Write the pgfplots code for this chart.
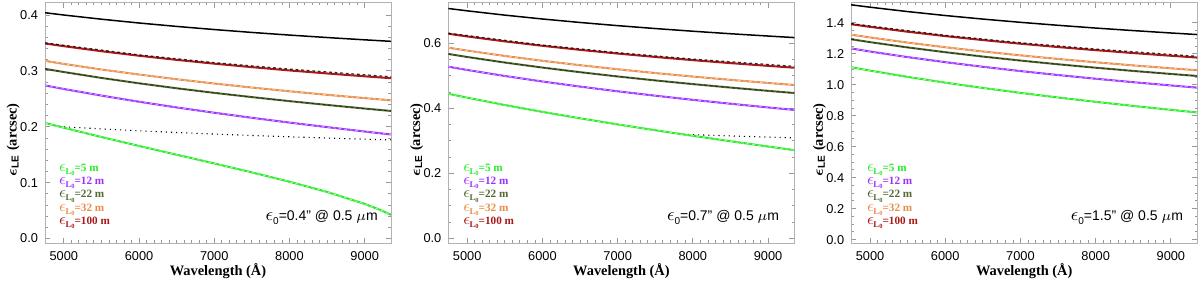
\documentclass[border=0pt]{standalone}
\usepackage{fontspec}
\setmainfont{Liberation Sans}
\newfontfamily\labfont{Liberation Serif}
\usepackage{pgfplots}
\usepackage{pgfplotstable}
\pgfplotsset{compat=1.18}
\usepackage{amsmath}
\usepackage{bm}

\definecolor{cgreen}{RGB}{40,235,40}
\definecolor{cpurple}{RGB}{155,48,255}
\definecolor{colive}{RGB}{82,104,48}
\definecolor{corange}{RGB}{232,140,72}
\definecolor{cred}{RGB}{170,25,25}

\pgfplotstableread{
lam   k      l5     l12    l22    l32    l100
4750 0.4041 0.2069 0.2740 0.3036 0.3179 0.3490
5000 0.4000 0.1983 0.2676 0.2980 0.3125 0.3442
5500 0.3925 0.1817 0.2558 0.2874 0.3025 0.3352
6000 0.3857 0.1657 0.2448 0.2778 0.2935 0.3271
6500 0.3796 0.1500 0.2346 0.2689 0.2851 0.3197
7000 0.3740 0.1344 0.2251 0.2607 0.2774 0.3129
7500 0.3688 0.1184 0.2161 0.2531 0.2702 0.3067
8000 0.3641 0.1017 0.2075 0.2459 0.2635 0.3008
8500 0.3597 0.0834 0.1994 0.2391 0.2572 0.2954
9000 0.3556 0.0620 0.1915 0.2326 0.2513 0.2903
9350 0.3529 0.0425 0.1862 0.2283 0.2473 0.2869
}\tA

\pgfplotstableread{
lam   k      l5     l12    l22    l32    l100
4750 0.7072 0.4447 0.5279 0.5672 0.5865 0.6293
5000 0.7000 0.4326 0.5179 0.5579 0.5776 0.6211
5500 0.6868 0.4099 0.4994 0.5408 0.5611 0.6059
6000 0.6749 0.3888 0.4824 0.5253 0.5462 0.5923
6500 0.6642 0.3690 0.4667 0.5111 0.5326 0.5798
7000 0.6544 0.3503 0.4522 0.4979 0.5201 0.5684
7500 0.6455 0.3323 0.4387 0.4857 0.5084 0.5579
8000 0.6372 0.3151 0.4259 0.4744 0.4976 0.5481
8500 0.6295 0.2984 0.4139 0.4637 0.4875 0.5390
9000 0.6224 0.2822 0.4025 0.4536 0.4779 0.5305
9350 0.6176 0.2710 0.3949 0.4469 0.4716 0.5248
}\tB

\pgfplotstableread{
lam   k      l5     l12    l22    l32    l100
4750 1.5155 1.1126 1.2335 1.2930 1.3229 1.3900
5000 1.5000 1.0908 1.2140 1.2745 1.3048 1.3730
5500 1.4717 1.0502 1.1779 1.2404 1.2716 1.3416
6000 1.4463 1.0131 1.1453 1.2096 1.2416 1.3134
6500 1.4233 0.9788 1.1154 1.1814 1.2143 1.2878
7000 1.4024 0.9470 1.0878 1.1556 1.1892 1.2643
7500 1.3832 0.9172 1.0622 1.1316 1.1660 1.2427
8000 1.3654 0.8892 1.0383 1.1094 1.1445 1.2226
8500 1.3490 0.8627 1.0160 1.0886 1.1244 1.2039
9000 1.3336 0.8375 0.9949 1.0691 1.1056 1.1865
9350 1.3235 0.8206 0.9808 1.0561 1.0930 1.1749
}\tC

\newcommand{\leg}[1]{{\fontsize{8.5}{8.5}\selectfont$\epsilon$}\kern-0.3pt\raisebox{-1.5pt}{\labfont\bfseries\fontsize{4.4}{4.4}\selectfont L\raisebox{-0.7pt}{\fontsize{3.2}{3.2}\selectfont 0}}{\labfont\bfseries\fontsize{5.6}{5.6}\selectfont =#1 m}}
\newcommand{\ann}[1]{{\fontsize{9}{9}\selectfont$\epsilon$}\raisebox{-2pt}{\fontsize{5}{5}\selectfont 0}=#1{\char"22} @ 0.5 $\mu$m}

\pgfplotsset{
  panel/.style={
    scale only axis, width=173pt, height=120.15pt,
    anchor=south west,
    xmin=4750, xmax=9350,
    xtick={5000,6000,7000,8000,9000},
    minor x tick num=9,
    tick align=inside,
    axis line style={draw=black!30},
    tick style={black!40, line width=0.4pt},
    major tick length=2.6pt, minor tick length=1.3pt,
    tick label style={font=\fontsize{6.4}{6.4}\selectfont},
    /pgf/number format/assume math mode=true,
    xticklabel style={/pgf/number format/set thousands separator={}, yshift=-0.5pt},
    yticklabel style={/pgf/number format/.cd, fixed, fixed zerofill, precision=1},
    xlabel={\labfont\bfseries Wavelength (\AA)},
    xlabel style={at={(axis description cs:0.5,0)}, anchor=center, yshift=-14pt, font=\fontsize{7.2}{7.2}\selectfont},
    ylabel={\labfont\bfseries $\boldsymbol{\epsilon}_{\mathbf{LE}}$ (arcsec)},
    ylabel style={at={(axis description cs:-0.092,0.43)}, anchor=center, rotate=0, font=\fontsize{7.2}{7.2}\selectfont},
  },
  lnc/.style={line width=1.0pt},
  dsw/.style={white, opacity=0.55, line width=0.45pt, dash pattern=on 1.4pt off 1.4pt},
  dsk/.style={black, opacity=0.6, line width=0.45pt, dash pattern=on 1.4pt off 1.4pt},
}

\begin{document}
\begin{tikzpicture}
\useasboundingbox (0,0) rectangle (600pt,140.5pt);

% ---------- panel 1 ----------
\begin{axis}[panel, at={(22.5pt,19pt)}, ymin=-0.008, ymax=0.422,
  ytick={0,0.1,0.2,0.3,0.4}, minor y tick num=4]
\addplot[black, line width=0.75pt] table[x=lam,y=k] {\tA};
\addplot[black, line width=0.55pt, dotted] coordinates {(4935,0.2010)(5000,0.2000)(5500,0.19623)(6000,0.19284)(6500,0.18978)(7000,0.18698)(7500,0.18442)(8000,0.18206)(8500,0.17986)(9000,0.17782)(9350,0.17647)};
\addplot[cgreen, lnc] coordinates {(4750,0.2069)(5000,0.1983)(5500,0.1817)(6000,0.1657)(6500,0.1500)(7000,0.1344)(7500,0.1184)(8000,0.1017)(8500,0.0834)(9000,0.0620)(9200,0.0516)(9350,0.0425)};
\addplot[cpurple, lnc] table[x=lam,y=l12] {\tA};
\addplot[colive, lnc] table[x=lam,y=l22] {\tA};
\addplot[corange, lnc] table[x=lam,y=l32] {\tA};
\addplot[cred, lnc] table[x=lam,y=l100] {\tA};
\addplot[dsw] coordinates {(4750,0.2069)(5000,0.1983)(5500,0.1817)(6000,0.1657)(6500,0.1500)(7000,0.1344)(7500,0.1184)(8000,0.1017)(8500,0.0834)(9000,0.0620)(9200,0.0516)(9350,0.0425)};
\addplot[dsw] table[x=lam,y=l12] {\tA};
\addplot[dsk] table[x=lam,y=l22] {\tA};
\addplot[dsw] table[x=lam,y=l32] {\tA};
\addplot[dsk, opacity=0.8, line width=0.6pt] coordinates {(4750,0.3502)(6000,0.3287)(7000,0.3148)(8000,0.3032)(9350,0.2895)};
\node[anchor=west, text=cgreen, inner sep=0pt] at (axis description cs:0.04,0.304) {\leg{5}};
\node[anchor=west, text=cpurple, inner sep=0pt] at (axis description cs:0.04,0.250) {\leg{12}};
\node[anchor=west, text=colive, inner sep=0pt] at (axis description cs:0.04,0.195) {\leg{22}};
\node[anchor=west, text=corange, inner sep=0pt] at (axis description cs:0.04,0.139) {\leg{32}};
\node[anchor=west, text=cred, inner sep=0pt] at (axis description cs:0.04,0.084) {\leg{100}};
\node[anchor=east, inner sep=0pt, font=\fontsize{7}{7}\selectfont] at (axis description cs:0.963,0.105) {\ann{0.4}};
\end{axis}

% ---------- panel 2 ----------
\begin{axis}[panel, at={(224.2pt,19pt)}, ymin=-0.015, ymax=0.725,
  ytick={0,0.2,0.4,0.6}, minor y tick num=3]
\addplot[black, line width=0.75pt] table[x=lam,y=k] {\tB};
\addplot[black, line width=0.55pt, dotted] coordinates {(7866,0.3197)(8000,0.3186)(8500,0.3148)(9000,0.3112)(9350,0.3088)};
\addplot[cgreen, lnc] table[x=lam,y=l5] {\tB};
\addplot[cpurple, lnc] table[x=lam,y=l12] {\tB};
\addplot[colive, lnc] table[x=lam,y=l22] {\tB};
\addplot[corange, lnc] table[x=lam,y=l32] {\tB};
\addplot[cred, lnc] table[x=lam,y=l100] {\tB};
\addplot[dsw] table[x=lam,y=l5] {\tB};
\addplot[dsw] table[x=lam,y=l12] {\tB};
\addplot[dsk] table[x=lam,y=l22] {\tB};
\addplot[dsw] table[x=lam,y=l32] {\tB};
\addplot[dsk, opacity=0.8, line width=0.6pt] coordinates {(4750,0.6312)(6000,0.5947)(7000,0.5712)(8000,0.5514)(9350,0.5290)};
\node[anchor=west, text=cgreen, inner sep=0pt] at (axis description cs:0.042,0.304) {\leg{5}};
\node[anchor=west, text=cpurple, inner sep=0pt] at (axis description cs:0.042,0.250) {\leg{12}};
\node[anchor=west, text=colive, inner sep=0pt] at (axis description cs:0.042,0.195) {\leg{22}};
\node[anchor=west, text=corange, inner sep=0pt] at (axis description cs:0.042,0.139) {\leg{32}};
\node[anchor=west, text=cred, inner sep=0pt] at (axis description cs:0.042,0.084) {\leg{100}};
\node[anchor=east, inner sep=0pt, font=\fontsize{7}{7}\selectfont] at (axis description cs:0.957,0.105) {\ann{0.7}};
\end{axis}

% ---------- panel 3 ----------
\begin{axis}[panel, at={(425.6pt,19pt)}, ymin=-0.022, ymax=1.529,
  ytick={0,0.2,0.4,0.6,0.8,1.0,1.2,1.4}, minor y tick num=3]
\addplot[black, line width=0.75pt] table[x=lam,y=k] {\tC};
\addplot[cgreen, lnc] table[x=lam,y=l5] {\tC};
\addplot[cpurple, lnc] table[x=lam,y=l12] {\tC};
\addplot[colive, lnc] table[x=lam,y=l22] {\tC};
\addplot[corange, lnc] table[x=lam,y=l32] {\tC};
\addplot[cred, lnc] table[x=lam,y=l100] {\tC};
\addplot[dsw] table[x=lam,y=l5] {\tC};
\addplot[dsw] table[x=lam,y=l12] {\tC};
\addplot[dsk] table[x=lam,y=l22] {\tC};
\addplot[dsw] table[x=lam,y=l32] {\tC};
\addplot[dsk, opacity=0.8, line width=0.6pt] coordinates {(4750,1.3942)(6000,1.3187)(7000,1.2706)(8000,1.2299)(9350,1.1831)};
\node[anchor=west, text=cgreen, inner sep=0pt] at (axis description cs:0.045,0.304) {\leg{5}};
\node[anchor=west, text=cpurple, inner sep=0pt] at (axis description cs:0.045,0.250) {\leg{12}};
\node[anchor=west, text=colive, inner sep=0pt] at (axis description cs:0.045,0.195) {\leg{22}};
\node[anchor=west, text=corange, inner sep=0pt] at (axis description cs:0.045,0.139) {\leg{32}};
\node[anchor=west, text=cred, inner sep=0pt] at (axis description cs:0.045,0.084) {\leg{100}};
\node[anchor=east, inner sep=0pt, font=\fontsize{7}{7}\selectfont] at (axis description cs:0.960,0.105) {\ann{1.5}};
\end{axis}
\end{tikzpicture}
\end{document}
